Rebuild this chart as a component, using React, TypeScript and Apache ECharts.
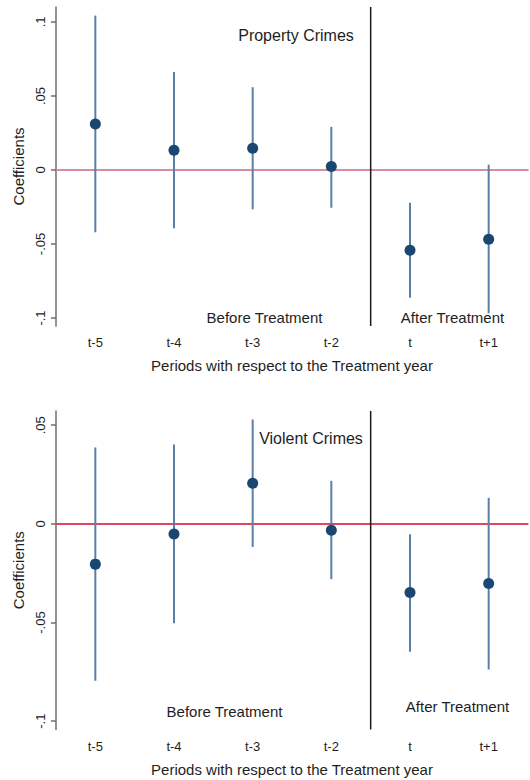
import React, { useEffect, useRef } from "react";
import * as echarts from "echarts";

const categories = ["t-5", "t-4", "t-3", "t-2", "t", "t+1"];
const treatmentStartIndex = 4; // vertical line between "t-2" and "t"

const propCoef = [0.031, 0.0133, 0.0147, 0.0023, -0.0543, -0.0468];
const propLow = [-0.0421, -0.0394, -0.0266, -0.0255, -0.0863, -0.0968];
const propHigh = [0.1043, 0.0662, 0.0559, 0.0291, -0.0221, 0.0036];

const violCoef = [-0.0204, -0.0051, 0.0206, -0.0032, -0.0348, -0.0302];
const violLow = [-0.0795, -0.0503, -0.0117, -0.028, -0.0648, -0.0738];
const violHigh = [0.0387, 0.0402, 0.0529, 0.0218, -0.0052, 0.0132];

const propTicks = [-0.1, -0.05, 0, 0.05, 0.1];
const violTicks = [-0.1, -0.05, 0, 0.05];

const FONT = "'Liberation Sans', Arial, sans-serif";
const TEXT = "#1e1e1e";
const AXIS = "#6e6e6e";

const fmt = (v: number) => {
  if (Math.abs(v) < 1e-9) return "0";
  const s = String(Math.round(v * 1000) / 1000);
  return s.replace("0.", ".");
};

function buildPanel(
  idx: number,
  coef: number[],
  low: number[],
  high: number[],
  ticks: number[],
  yMin: number,
  yMax: number,
  zeroColor: string,
  zeroWidth: number
) {
  const xAxis = {
    type: "category",
    gridIndex: idx,
    data: categories,
    boundaryGap: true,
    axisLine: { lineStyle: { color: AXIS, width: 1.5 } },
    axisTick: { alignWithLabel: true, length: 5, lineStyle: { color: AXIS, width: 1.5 } },
    axisLabel: { color: TEXT, fontSize: 13, fontFamily: FONT, margin: 10 },
    name: "Periods with respect to the Treatment year",
    nameLocation: "middle",
    nameGap: 32,
    nameTextStyle: { color: TEXT, fontSize: 15, fontFamily: FONT },
    splitLine: { show: false },
  };
  const yAxis = {
    type: "value",
    gridIndex: idx,
    min: yMin,
    max: yMax,
    axisLine: { show: true, lineStyle: { color: AXIS, width: 1.5 } },
    axisTick: { show: true, length: 5, customValues: ticks, lineStyle: { color: AXIS, width: 1.5 } },
    axisLabel: {
      customValues: ticks,
      formatter: (v: number) => fmt(v),
      rotate: 90,
      color: TEXT,
      fontSize: 13,
      fontFamily: FONT,
      margin: 9,
    },
    splitLine: { show: false },
    name: "Coefficients",
    nameLocation: "middle",
    nameGap: 30,
    nameTextStyle: { color: TEXT, fontSize: 15, fontFamily: FONT },
  };
  const series = [
    {
      type: "custom",
      xAxisIndex: idx,
      yAxisIndex: idx,
      data: categories.map((_, i) => [i, low[i], high[i]]),
      encode: { x: 0, y: [1, 2] },
      renderItem: (params: any, api: any) => {
        const p1 = api.coord([api.value(0), api.value(1)]);
        const p2 = api.coord([api.value(0), api.value(2)]);
        return {
          type: "line",
          shape: { x1: p1[0], y1: p1[1], x2: p2[0], y2: p2[1] },
          style: { stroke: "#5a7fa6", lineWidth: 2 },
        };
      },
      markLine: {
        silent: true,
        symbol: ["none", "none"],
        label: { show: false },
        lineStyle: { color: zeroColor, width: zeroWidth, type: "solid", opacity: 1 },
        data: [{ yAxis: 0 }],
        z: 1,
      },
      z: 2,
    },
    {
      type: "custom",
      xAxisIndex: idx,
      yAxisIndex: idx,
      data: [[treatmentStartIndex - 1, 0]],
      renderItem: (params: any, api: any) => {
        const a = api.coord([treatmentStartIndex - 1, 0]);
        const b = api.coord([treatmentStartIndex, 0]);
        const x = (a[0] + b[0]) / 2;
        const cs = params.coordSys;
        return {
          type: "line",
          shape: { x1: x, y1: cs.y, x2: x, y2: cs.y + cs.height },
          style: { stroke: "#1a1a1a", lineWidth: 1.5 },
        };
      },
      z: 3,
    },
    {
      type: "scatter",
      xAxisIndex: idx,
      yAxisIndex: idx,
      data: categories.map((_, i) => [i, coef[i]]),
      symbol: "circle",
      symbolSize: 11,
      itemStyle: { color: "#1b4670", opacity: 1 },
      z: 4,
    },
  ];
  return { xAxis, yAxis, series };
}

export default function App() {
  const ref = useRef<HTMLDivElement>(null);
  useEffect(() => {
    if (!ref.current) return;
    const chart = echarts.init(ref.current, undefined, { renderer: "svg" });
    const top = buildPanel(0, propCoef, propLow, propHigh, propTicks, -0.1054, 0.1101, "#f28ba0", 1.5);
    const bot = buildPanel(1, violCoef, violLow, violHigh, violTicks, -0.1042, 0.0572, "#e2445f", 2);
    const textStyle = (t: string) => ({
      text: t,
      fill: TEXT,
      font: `15px ${FONT}`,
      textAlign: "center",
      textVerticalAlign: "middle",
    });
    chart.setOption({
      animation: false,
      backgroundColor: "#ffffff",
      grid: [
        { left: 56, right: 2, top: 7, height: 319, outerBoundsMode: "none", containLabel: false },
        { left: 56, right: 2, top: 411, height: 318.5, outerBoundsMode: "none", containLabel: false },
      ],
      xAxis: [top.xAxis, bot.xAxis],
      yAxis: [top.yAxis, bot.yAxis],
      series: [...top.series, ...bot.series],
      graphic: [
        { type: "text", x: 296, y: 35, style: { ...textStyle("Property Crimes"), font: `16px ${FONT}` } },
        { type: "text", x: 264.5, y: 317, style: textStyle("Before Treatment") },
        { type: "text", x: 452.5, y: 317, style: textStyle("After Treatment") },
        { type: "text", x: 311, y: 438, style: { ...textStyle("Violent Crimes"), font: `16px ${FONT}` } },
        { type: "text", x: 224.5, y: 711, style: textStyle("Before Treatment") },
        { type: "text", x: 457.5, y: 706, style: textStyle("After Treatment") },
      ],
    });
    return () => chart.dispose();
  }, []);
  return (
    <div
      ref={ref}
      style={{ position: "fixed", left: 0, top: 0, width: 530, height: 780, background: "#fff" }}
    />
  );
}
